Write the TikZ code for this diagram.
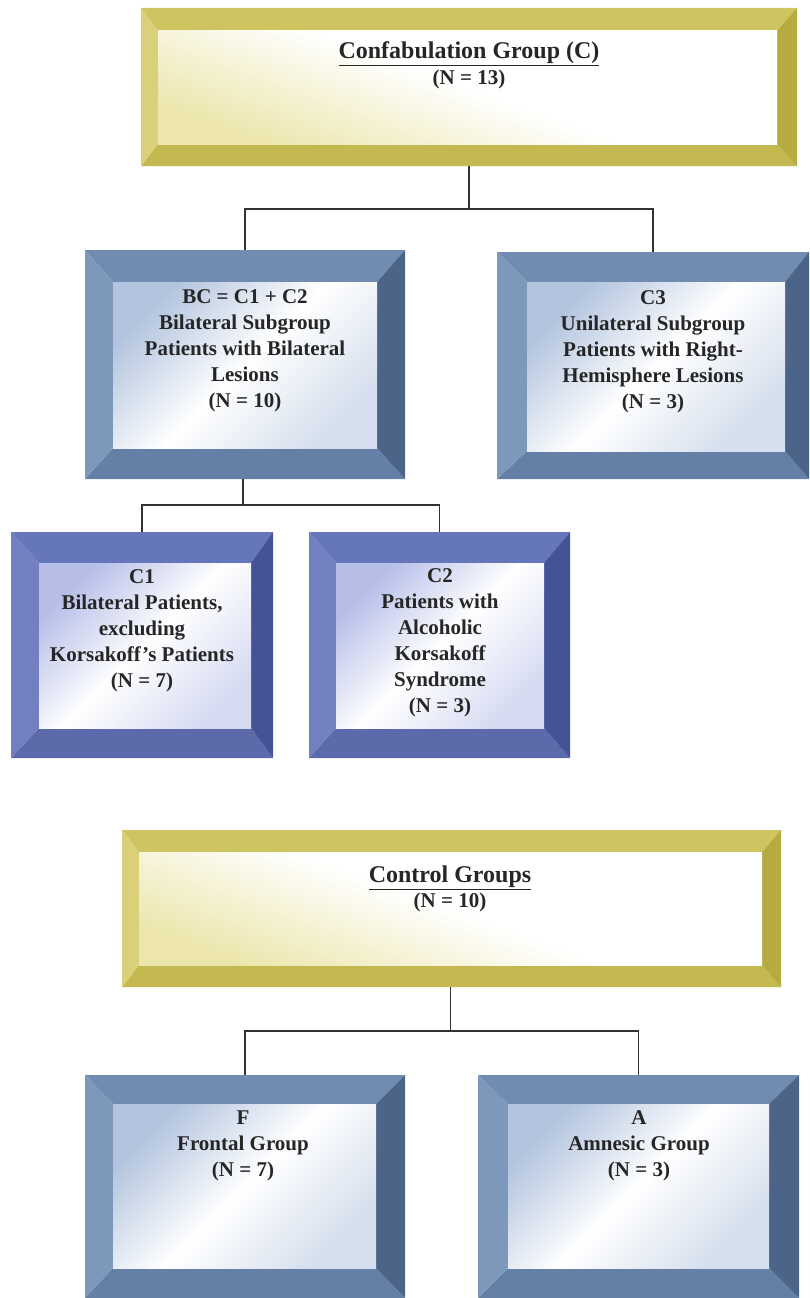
\documentclass[tikz,border=0pt]{standalone}
\usepackage{fontspec}
\setmainfont{Liberation Serif}
\usetikzlibrary{calc}
\definecolor{gTop}{RGB}{206,196,96}
\definecolor{gLeft}{RGB}{218,208,122}
\definecolor{gRight}{RGB}{182,171,62}
\definecolor{gBot}{RGB}{196,185,80}
\definecolor{gFace}{RGB}{236,230,172}
\definecolor{bTop}{RGB}{112,140,176}
\definecolor{bLeft}{RGB}{126,152,188}
\definecolor{bRight}{RGB}{76,100,136}
\definecolor{bBot}{RGB}{100,128,166}
\definecolor{bFace}{RGB}{178,196,222}
\definecolor{pTop}{RGB}{102,118,186}
\definecolor{pLeft}{RGB}{114,128,194}
\definecolor{pRight}{RGB}{70,82,150}
\definecolor{pBot}{RGB}{92,106,172}
\definecolor{pFace}{RGB}{182,190,232}
\definecolor{ink}{RGB}{38,38,38}
\tikzset{
  boxnode/.style={draw=none, inner sep=0pt, outer sep=0pt},
  txt/.style={text=ink, align=center, font=\fontsize{21}{26}\selectfont\bfseries, inner sep=0pt},
  ttl/.style={text=ink, align=center, inner sep=0pt},
  conn/.style={draw=black!80, line width=1.6pt},
  goldtop/.style={fill=gTop}, goldleft/.style={fill=gLeft}, goldright/.style={fill=gRight}, goldbot/.style={fill=gBot},
  goldface/.style={top color=white, bottom color=gFace, middle color=white, shading angle=-20},
  bluetop/.style={fill=bTop}, blueleft/.style={fill=bLeft}, blueright/.style={fill=bRight}, bluebot/.style={fill=bBot},
  blueface/.style={top color=bFace, bottom color=bFace!55, middle color=white, shading angle=45},
  purptop/.style={fill=pTop}, purpleft/.style={fill=pLeft}, purpright/.style={fill=pRight}, purpbot/.style={fill=pBot},
  purpface/.style={top color=pFace, bottom color=pFace!55, middle color=white, shading angle=45},
}
% #1 name, #2 L, #3 T, #4 R, #5 B, #6 palette
\newcommand{\bevelframe}[6]{%
  \coordinate (#1-iNW) at ($(#1.north west)+(#2,#3)$);
  \coordinate (#1-iNE) at ($(#1.north east)+(-#4,#3)$);
  \coordinate (#1-iSE) at ($(#1.south east)+(-#4,-#5)$);
  \coordinate (#1-iSW) at ($(#1.south west)+(#2,-#5)$);
  \fill[#6top] (#1.north west) -- (#1.north east) -- (#1-iNE) -- (#1-iNW) -- cycle;
  \fill[#6bot] (#1.south west) -- (#1.south east) -- (#1-iSE) -- (#1-iSW) -- cycle;
  \fill[#6left] (#1.north west) -- (#1-iNW) -- (#1-iSW) -- (#1.south west) -- cycle;
  \fill[#6right] (#1.north east) -- (#1-iNE) -- (#1-iSE) -- (#1.south east) -- cycle;
  \shade[#6face] (#1-iNW) rectangle (#1-iSE);
}
\begin{document}
\begin{tikzpicture}[x=1pt,y=-1pt]
\useasboundingbox (0,0) rectangle (809,1298);
% boxes
\node[boxnode, minimum width=656pt, minimum height=158pt] (c) at (469,87) {};
\node[boxnode, minimum width=320pt, minimum height=229pt] (bc) at (245,364.5) {};
\node[boxnode, minimum width=312pt, minimum height=227pt] (c3) at (653,365.5) {};
\node[boxnode, minimum width=262pt, minimum height=226pt] (c1) at (142,645) {};
\node[boxnode, minimum width=261pt, minimum height=226pt] (c2) at (439.5,645) {};
\node[boxnode, minimum width=659pt, minimum height=157pt] (ctl) at (451.5,908.5) {};
\node[boxnode, minimum width=320pt, minimum height=223pt] (f) at (245,1186.5) {};
\node[boxnode, minimum width=321pt, minimum height=223pt] (a) at (638.5,1186.5) {};
\bevelframe{c}{17}{23}{20}{22}{gold}
\bevelframe{ctl}{17}{22}{19}{22}{gold}
\bevelframe{bc}{28}{32}{28}{31}{blue}
\bevelframe{c3}{30}{30}{24}{28}{blue}
\bevelframe{c1}{28}{31}{22}{30}{purp}
\bevelframe{c2}{27}{31}{26}{30}{purp}
\bevelframe{f}{28}{29}{29}{30}{blue}
\bevelframe{a}{30}{29}{30}{30}{blue}
% texts
\node[ttl] (c-t) at (469,65) {{\fontsize{24}{25}\selectfont\bfseries\underline{Confabulation Group (C)}}\\[3pt]{\fontsize{21}{25}\selectfont\bfseries (N = 13)}};
\node[txt] (bc-t) at (245,351) {BC = C1 + C2\\Bilateral Subgroup\\Patients with Bilateral\\Lesions\\(N = 10)};
\node[txt] (c3-t) at (653,352) {C3\\Unilateral Subgroup\\Patients with Right-\\Hemisphere Lesions\\(N = 3)};
\node[txt] (c1-t) at (142,631) {C1\\Bilateral Patients,\\excluding\\Korsakoff's Patients\\(N = 7)};
\node[txt] (c2-t) at (440,643) {C2\\Patients with\\Alcoholic\\Korsakoff\\Syndrome\\(N = 3)};
\node[ttl] (ctl-t) at (450,889) {{\fontsize{24}{25}\selectfont\bfseries\underline{Control Groups}}\\[3pt]{\fontsize{21}{25}\selectfont\bfseries (N = 10)}};
\node[txt] (f-t) at (243,1146) {F\\Frontal Group\\(N = 7)};
\node[txt] (a-t) at (639,1146) {A\\Amnesic Group\\(N = 3)};
% connectors
\coordinate (j1) at ($(c.south)+(0,43)$);
\draw[conn] (c.south) -- (j1) -| (bc.north);
\draw[conn] (j1) -| (c3.north);
\coordinate (j2) at ($(bc.south)+(-2,26)$);
\draw[conn] (bc.south -| j2) -- (j2) -| (c1.north);
\draw[conn] (j2) -| (c2.north);
\coordinate (j3) at ($(ctl.south)+(-1,44)$);
\draw[conn] (ctl.south -| j3) -- (j3) -| (f.north);
\draw[conn] (j3) -| (a.north);
\end{tikzpicture}
\end{document}
